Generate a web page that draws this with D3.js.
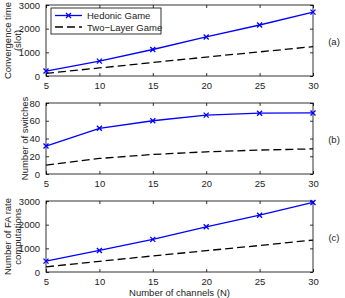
<!DOCTYPE html>
<html>
<head>
<meta charset="utf-8">
<script src="https://cdn.jsdelivr.net/npm/d3@7"></script>
<style>
  body { margin: 0; background: #fff; }
  svg { font-family: "Liberation Sans", Arial, sans-serif; }
</style>
</head>
<body>
<div id="chart"></div>
<script>
var channels = [5, 10, 15, 20, 25, 30]

var convHedonic = [210, 630, 1120, 1650, 2155, 2700]
var convTwoLayer = [110, 340, 570, 800, 1020, 1240]

var switchHedonic = [31.5, 51.5, 60, 66.3, 68.5, 68.8]
var switchTwoLayer = [10, 17.5, 22, 25, 27, 28.3]

var faHedonic = [460, 910, 1380, 1910, 2400, 2940]
var faTwoLayer = [220, 450, 680, 900, 1120, 1350]

var xTicks = [5, 10, 15, 20, 25, 30]
var seriesNames = ["Hedonic Game", "Two\u2212Layer Game"]

var panels = [
  { hed: convHedonic, two: convTwoLayer, ymax: 3000, yTicks: [0, 1000, 2000, 3000],
    ylabel: ["Convergence time", "(slot)"], tag: "(a)" },
  { hed: switchHedonic, two: switchTwoLayer, ymax: 80, yTicks: [0, 20, 40, 60, 80],
    ylabel: ["Number of switches"], tag: "(b)" },
  { hed: faHedonic, two: faTwoLayer, ymax: 3000, yTicks: [0, 1000, 2000, 3000],
    ylabel: ["Number of FA rate", "computations"], tag: "(c)" }
]

var width = 345
var height = 298
var left = 46, right = 313
var tops = [5, 103, 201]
var ph = 71

var svg = d3.select('#chart').append('svg')
  .attr('width', width).attr('height', height)

var x = d3.scaleLinear().domain([5, 30]).range([left, right])

panels.forEach(function(p, i) {
  var top = tops[i]
  var y = d3.scaleLinear().domain([0, p.ymax]).range([top + ph, top])
  var g = svg.append('g')

  // box
  g.append('rect')
    .attr('x', left).attr('y', top)
    .attr('width', right - left).attr('height', ph)
    .attr('fill', 'none').attr('stroke', '#000').attr('stroke-width', 0.8)

  // inward ticks, MATLAB style
  var tl = 3
  g.append('g').attr('transform', 'translate(0,' + (top + ph) + ')')
    .call(d3.axisBottom(x).tickValues(xTicks).tickSizeInner(-tl).tickSizeOuter(0).tickPadding(6))
  g.append('g').attr('transform', 'translate(0,' + top + ')')
    .call(d3.axisTop(x).tickValues(xTicks).tickSizeInner(-tl).tickSizeOuter(0).tickFormat(''))
  g.append('g').attr('transform', 'translate(' + left + ',0)')
    .call(d3.axisLeft(y).tickValues(p.yTicks).tickFormat(d3.format('d'))
      .tickSizeInner(-tl).tickSizeOuter(0).tickPadding(6))
  g.append('g').attr('transform', 'translate(' + right + ',0)')
    .call(d3.axisRight(y).tickValues(p.yTicks).tickSizeInner(-tl).tickSizeOuter(0).tickFormat(''))

  g.selectAll('.domain').remove()
  g.selectAll('.tick line').attr('stroke', '#000').attr('stroke-width', 0.8)
  g.selectAll('.tick text')
    .style('font-size', '9.5px').style('font-family', '"Liberation Sans", Arial, sans-serif')
    .attr('fill', '#222')

  var line = d3.line()
    .x(function(d, j) { return x(channels[j]) })
    .y(function(d) { return y(d) })

  g.append('path').datum(p.two)
    .attr('d', line).attr('fill', 'none')
    .attr('stroke', '#000').attr('stroke-width', 1.3)
    .attr('stroke-dasharray', '8,4')

  g.append('path').datum(p.hed)
    .attr('d', line).attr('fill', 'none')
    .attr('stroke', '#0000ff').attr('stroke-width', 1.3)

  g.selectAll('.mark').data(p.hed).enter().append('path')
    .attr('class', 'mark')
    .attr('transform', function(d, j) { return 'translate(' + x(channels[j]) + ',' + y(d) + ')' })
    .attr('d', 'M-2.5,-2.5L2.5,2.5M-2.5,2.5L2.5,-2.5')
    .attr('stroke', '#0000ff').attr('stroke-width', 1.3)

  // y label
  var cy = top + ph / 2
  var lx = p.ylabel.length === 2 ? 11 : 28
  var yl = g.append('text')
    .attr('transform', 'translate(' + lx + ',' + cy + ') rotate(-90)')
    .attr('text-anchor', 'middle')
    .style('font-size', '9.5px').attr('fill', '#222')
  p.ylabel.forEach(function(s, k) {
    yl.append('tspan').attr('x', 0).attr('dy', k === 0 ? 0 : 10).text(s)
  })

  g.append('text')
    .attr('x', 334).attr('y', cy + 4)
    .attr('text-anchor', 'middle')
    .style('font-size', '9.5px').attr('fill', '#222')
    .text(p.tag)
})

// x label
svg.append('text')
  .attr('x', (left + right) / 2).attr('y', 296)
  .attr('text-anchor', 'middle')
  .style('font-size', '9.5px').attr('fill', '#222')
  .text('Number of channels (N)')

// legend
var lg = svg.append('g').attr('transform', 'translate(51,8)')
lg.append('rect').attr('width', 110).attr('height', 26)
  .attr('fill', '#fff').attr('stroke', '#000').attr('stroke-width', 0.8)
lg.append('line').attr('x1', 4).attr('x2', 31).attr('y1', 7.5).attr('y2', 7.5)
  .attr('stroke', '#0000ff').attr('stroke-width', 1.3)
lg.append('path').attr('transform', 'translate(17.5,7.5)')
  .attr('d', 'M-2.5,-2.5L2.5,2.5M-2.5,2.5L2.5,-2.5')
  .attr('stroke', '#0000ff').attr('stroke-width', 1.3)
lg.append('line').attr('x1', 4).attr('x2', 31).attr('y1', 19).attr('y2', 19)
  .attr('stroke', '#000').attr('stroke-width', 1.3).attr('stroke-dasharray', '8,4')
seriesNames.forEach(function(s, k) {
  lg.append('text').attr('x', 36).attr('y', k === 0 ? 11 : 22.5)
    .style('font-size', '9.5px').attr('fill', '#222').text(s)
})
</script>
</body>
</html>
